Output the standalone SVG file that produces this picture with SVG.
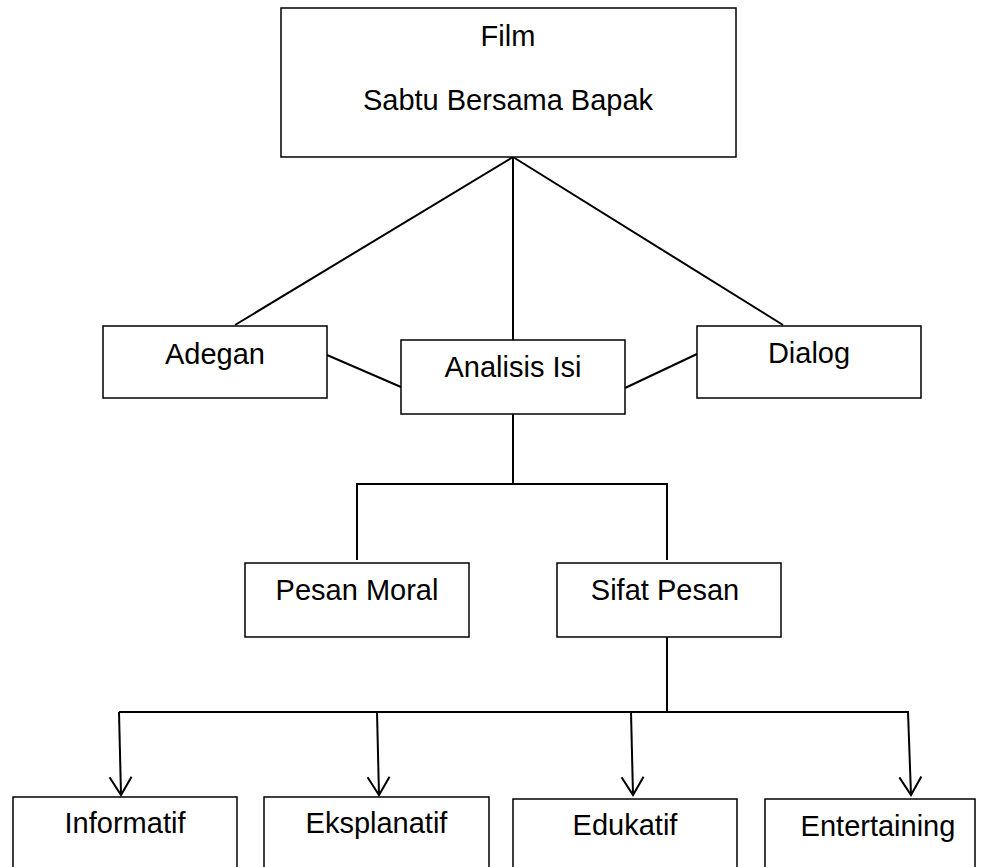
<svg xmlns="http://www.w3.org/2000/svg" width="986" height="867" viewBox="0 0 986 867">
<style>
.box{fill:#fff;stroke:#000;stroke-width:1.5}
.t{font-family:"Liberation Sans",Arial,sans-serif;font-size:29px;fill:#000;text-anchor:middle}
.c{fill:none;stroke:#000;stroke-width:2}
</style>
<defs>
<marker id="arr" markerUnits="userSpaceOnUse" markerWidth="24" markerHeight="26" refX="20" refY="12" orient="auto" viewBox="0 0 24 24">
<path d="M2,1 L20,12 L2,23" fill="none" stroke="#000" stroke-width="2"/>
</marker>
</defs>
<rect width="986" height="867" fill="#fff"/>
<g id="connectors">
<line class="c" x1="513" y1="157" x2="235" y2="325"/>
<line class="c" x1="513" y1="157" x2="513" y2="340"/>
<line class="c" x1="513" y1="157" x2="783" y2="325"/>
<line class="c" x1="327" y1="355" x2="401" y2="387"/>
<line class="c" x1="625" y1="388" x2="697" y2="354"/>
<polyline class="c" points="513,414 513,484"/>
<polyline class="c" points="357,560 357,484 667,484 667,560"/>
<polyline class="c" points="667,637 667,712"/>
<polyline class="c" points="119,712 909,712"/>
<line class="c" x1="119" y1="712" x2="121" y2="795" marker-end="url(#arr)"/>
<line class="c" x1="377" y1="712" x2="379" y2="795" marker-end="url(#arr)"/>
<line class="c" x1="631" y1="712" x2="633" y2="795" marker-end="url(#arr)"/>
<line class="c" x1="908" y1="712" x2="911" y2="795" marker-end="url(#arr)"/>
</g>
<g id="film">
<rect class="box" x="281" y="8" width="455" height="149"/>
<text class="t" x="508" y="46">Film</text>
<text class="t" x="508" y="110">Sabtu Bersama Bapak</text>
</g>
<g id="adegan">
<rect class="box" x="103" y="326" width="224" height="72"/>
<text class="t" x="215" y="364">Adegan</text>
</g>
<g id="analisis">
<rect class="box" x="401" y="340" width="224" height="74"/>
<text class="t" x="513" y="377">Analisis Isi</text>
</g>
<g id="dialog">
<rect class="box" x="697" y="326" width="224" height="72"/>
<text class="t" x="809" y="363">Dialog</text>
</g>
<g id="pesan-moral">
<rect class="box" x="245" y="563" width="224" height="74"/>
<text class="t" x="357" y="600">Pesan Moral</text>
</g>
<g id="sifat-pesan">
<rect class="box" x="557" y="563" width="224" height="74"/>
<text class="t" x="665" y="600">Sifat Pesan</text>
</g>
<g id="informatif">
<rect class="box" x="13" y="797" width="224" height="90"/>
<text class="t" x="125" y="833">Informatif</text>
</g>
<g id="eksplanatif">
<rect class="box" x="264" y="797" width="225" height="90"/>
<text class="t" x="376.5" y="833">Eksplanatif</text>
</g>
<g id="edukatif">
<rect class="box" x="513" y="799" width="224" height="90"/>
<text class="t" x="625" y="835">Edukatif</text>
</g>
<g id="entertaining">
<rect class="box" x="765" y="799" width="210" height="90"/>
<text class="t" x="878" y="836">Entertaining</text>
</g>
</svg>
